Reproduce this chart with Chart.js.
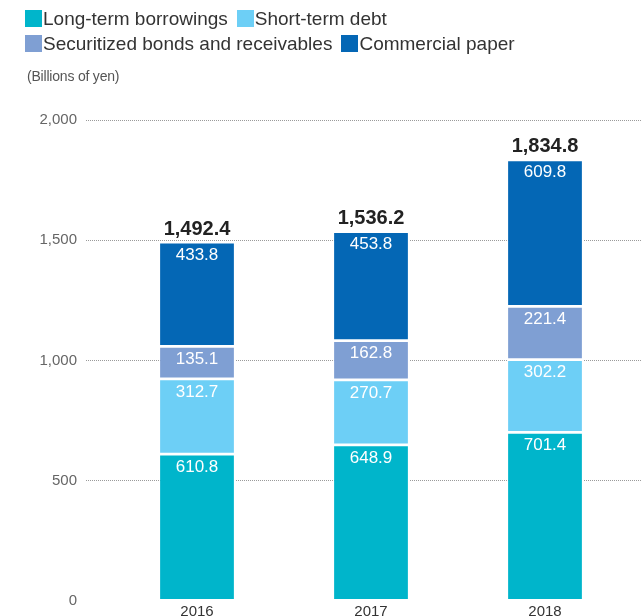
<!DOCTYPE html>
<html>
<head>
<meta charset="utf-8">
<script src="https://cdn.jsdelivr.net/npm/chart.js@4"></script>
<style>
  html, body { margin: 0; padding: 0; background: #fff; overflow: hidden; }
  #wrap { position: relative; width: 642px; height: 616px; overflow: hidden; }
  #chart { position: absolute; left: 0; top: 0; }
  #legend { position: absolute; left: 25px; top: 6px; width: 610px; display: flex; flex-wrap: wrap;
            font-family: "Liberation Sans", Arial, sans-serif; font-size: 19px; color: #333; }
  #legend .item { display: flex; align-items: center; height: 25px; margin-right: 9px; }
  #legend .box { width: 17px; height: 17px; margin-right: 1px; }
  #unit { position: absolute; left: 27px; top: 68px; font-family: "Liberation Sans", Arial, sans-serif;
          font-size: 14px; color: #555; letter-spacing: -0.2px; }
</style>
</head>
<body>
<div id="wrap">
  <canvas id="chart" width="642" height="619"></canvas>
  <div id="legend"></div>
  <div id="unit">(Billions of yen)</div>
</div>
<script>
// ====== DATOS ======
const years = ["2016", "2017", "2018"];
const seriesNames = ["Long-term borrowings", "Short-term debt", "Securitized bonds and receivables", "Commercial paper"];
const longTerm = [610.8, 648.9, 701.4];
const shortTerm = [312.7, 270.7, 302.2];
const securitized = [135.1, 162.8, 221.4];
const commercialPaper = [433.8, 453.8, 609.8];
const yTicks = [0, 500, 1000, 1500, 2000];
const colors = ["#00b5cb", "#6dcff6", "#7f9fd3", "#0467b5"];

const seriesValues = [longTerm, shortTerm, securitized, commercialPaper];
const totals = years.map((y, i) => seriesValues.reduce((s, arr) => s + arr[i], 0));

const fmt1 = v => v.toLocaleString("en-US", { minimumFractionDigits: 1, maximumFractionDigits: 1 });
const fontFam = "'Liberation Sans', Arial, sans-serif";

// ====== LEYENDA HTML ======
const legend = document.getElementById("legend");
seriesNames.forEach((name, i) => {
  const item = document.createElement("div");
  item.className = "item";
  item.innerHTML = '<span class="box" style="background:' + colors[i] + '"></span><span>' + name + '</span>';
  legend.appendChild(item);
});

// ====== ETIQUETAS ======
const labelsPlugin = {
  id: "barLabels",
  afterDatasetsDraw(chart) {
    const ctx = chart.ctx;
    ctx.save();
    ctx.textAlign = "center";
    ctx.textBaseline = "middle";
    ctx.fillStyle = "#fff";
    ctx.font = "17px " + fontFam;
    chart.data.datasets.forEach((ds, di) => {
      chart.getDatasetMeta(di).data.forEach((bar, i) => {
        ctx.fillText(fmt1(ds.data[i]), bar.x, bar.y + 13);
      });
    });
    // totales
    const last = chart.getDatasetMeta(chart.data.datasets.length - 1).data;
    ctx.fillStyle = "#222";
    ctx.font = "bold 20px " + fontFam;
    last.forEach((bar, i) => {
      ctx.fillText(fmt1(totals[i]), bar.x, bar.y - 13);
    });
    ctx.restore();
  }
};

const gridColor = c => (c.tick && c.tick.value === 0) ? "rgba(0,0,0,0)" : "#9a9a9a";

new Chart(document.getElementById("chart"), {
  type: "bar",
  data: {
    labels: years,
    datasets: seriesNames.map((name, i) => ({
      label: name,
      data: seriesValues[i],
      backgroundColor: colors[i],
      borderColor: "#fff",
      borderWidth: 1.4,
      borderSkipped: false,
      barPercentage: 0.44,
      categoryPercentage: 1
    }))
  },
  options: {
    responsive: false,
    animation: false,
    layout: { padding: { top: 120, left: 0, right: 0, bottom: 0 } },
    plugins: { legend: { display: false }, tooltip: { enabled: false } },
    scales: {
      x: {
        stacked: true,
        afterFit: s => { s.height = 16; },
        grid: { display: false, drawTicks: false },
        border: { display: false },
        ticks: { color: "#333", font: { family: fontFam, size: 15 }, padding: 2 }
      },
      y: {
        stacked: true,
        min: 0,
        max: 2000,
        afterBuildTicks: s => { s.ticks = yTicks.map(v => ({ value: v })); },
        afterFit: s => { s.width = 110; },
        border: { display: false, dash: [1, 1] },
        grid: { color: gridColor, tickColor: gridColor, tickLength: 24, lineWidth: 1, tickBorderDash: [1, 1] },
        ticks: { color: "#666", font: { family: fontFam, size: 15 }, padding: 9 }
      },
      y2: {
        position: "right",
        min: 0,
        max: 2000,
        afterBuildTicks: s => { s.ticks = yTicks.map(v => ({ value: v })); },
        afterFit: s => { s.width = 10; },
        border: { display: false },
        grid: { drawOnChartArea: false, color: gridColor, tickColor: gridColor, tickLength: 10, tickBorderDash: [1, 1] },
        ticks: { display: false }
      }
    }
  },
  plugins: [labelsPlugin]
});
</script>
</body>
</html>
